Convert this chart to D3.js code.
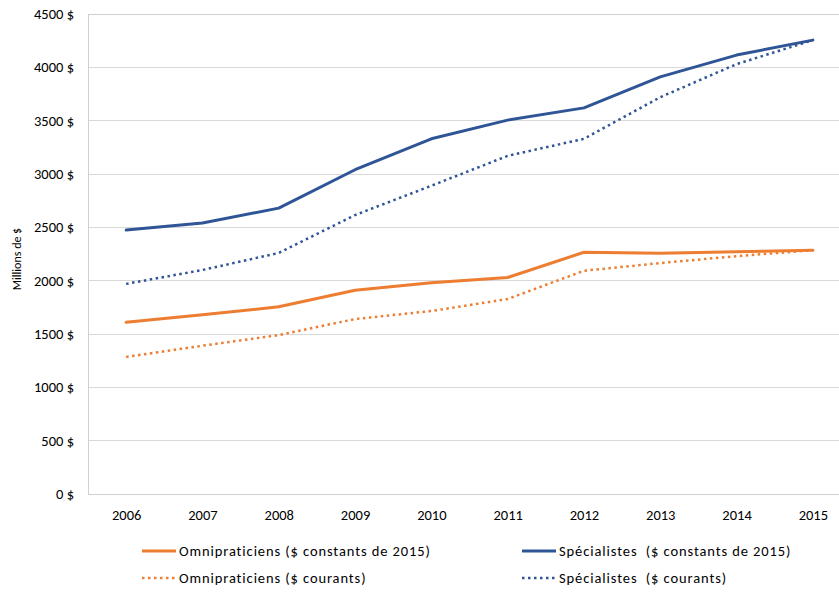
<!DOCTYPE html>
<html>
<head>
<meta charset="utf-8">
<script src="https://cdn.jsdelivr.net/npm/d3@7"></script>
<style>
  html, body { margin: 0; padding: 0; background: #fff; }
  svg { display: block; }
  text { font-family: Carlito, "Liberation Sans Narrow", "Open Sans", sans-serif; fill: #000; }
</style>
</head>
<body>
<svg id="chart" width="839" height="592"></svg>
<script>
// Years on the horizontal axis
const years = ["2006", "2007", "2008", "2009", "2010", "2011", "2012", "2013", "2014", "2015"];

// Payments in millions of dollars
const omniConstants = [1610, 1680, 1755, 1910, 1980, 2030, 2266, 2256, 2270, 2285];
const specConstants = [2475, 2540, 2680, 3040, 3330, 3505, 3620, 3910, 4115, 4255];
const omniCourants  = [1285, 1390, 1490, 1640, 1715, 1828, 2093, 2165, 2230, 2285];
const specCourants  = [1970, 2100, 2260, 2615, 2890, 3170, 3330, 3720, 4030, 4255];

const yTicks = [0, 500, 1000, 1500, 2000, 2500, 3000, 3500, 4000, 4500];

const seriesNames = [
  "Omnipraticiens ($ constants de 2015)",
  "Spécialistes  ($ constants de 2015)",
  "Omnipraticiens ($ courants)",
  "Spécialistes  ($ courants)"
];

const ORANGE = "#ED7D31";
const BLUE = "#2F5597";

const series = [
  { name: seriesNames[0], values: omniConstants, color: ORANGE, dotted: false },
  { name: seriesNames[1], values: specConstants, color: BLUE, dotted: false },
  { name: seriesNames[2], values: omniCourants, color: ORANGE, dotted: true },
  { name: seriesNames[3], values: specCourants, color: BLUE, dotted: true }
];

const svg = d3.select("#chart");
const plot = { left: 88, right: 851, top: 14, bottom: 494 };

const x = d3.scalePoint().domain(years).range([plot.left, plot.right]).padding(0.5);
const y = d3.scaleLinear().domain([0, 4500]).range([plot.bottom, plot.top]);

// Horizontal gridlines
svg.append("g")
  .selectAll("line")
  .data(yTicks)
  .join("line")
  .attr("x1", plot.left).attr("x2", plot.right)
  .attr("y1", d => y(d)).attr("y2", d => y(d))
  .attr("stroke", "#d9d9d9").attr("stroke-width", 1)
  .attr("shape-rendering", "crispEdges");

// Plot area frame
svg.append("rect")
  .attr("x", plot.left).attr("y", plot.top)
  .attr("width", plot.right - plot.left).attr("height", plot.bottom - plot.top)
  .attr("fill", "none").attr("stroke", "#d0d0d0").attr("stroke-width", 1)
  .attr("shape-rendering", "crispEdges");

// Y axis labels
const yAxis = d3.axisLeft(y).tickValues(yTicks).tickSize(0).tickPadding(14)
  .tickFormat(d => d + " $");
const gy = svg.append("g").attr("transform", `translate(${plot.left},0)`).call(yAxis);
gy.select(".domain").remove();
gy.selectAll("text").style("font-size", "14.5px").style("font-family", null);

// X axis labels
const xAxis = d3.axisBottom(x).tickSize(0).tickPadding(16);
const gx = svg.append("g").attr("transform", `translate(0,${plot.bottom})`).call(xAxis);
gx.select(".domain").remove();
gx.selectAll("text").style("font-size", "14.5px").style("font-family", null);

// Y axis title
svg.append("text")
  .attr("transform", "translate(21,259) rotate(-90)")
  .attr("text-anchor", "middle")
  .style("font-size", "12px")
  .text("Millions de $");

// Lines
const line = d3.line()
  .x((d, i) => x(years[i]))
  .y(d => y(d));

svg.append("g")
  .selectAll("path")
  .data(series.slice().reverse())
  .join("path")
  .attr("d", d => line(d.values))
  .attr("fill", "none")
  .attr("stroke", d => d.color)
  .attr("stroke-width", d => d.dotted ? 2.5 : 3)
  .attr("stroke-dasharray", d => d.dotted ? "2.5,3.5" : null)
  .attr("stroke-linejoin", "round")
  .attr("stroke-linecap", d => d.dotted ? "butt" : "round");

// Legend
const legendPos = [
  { x: 142, y: 551 }, { x: 522, y: 551 },
  { x: 142, y: 578 }, { x: 522, y: 578 }
];
const legend = svg.append("g")
  .selectAll("g")
  .data(series)
  .join("g")
  .attr("transform", (d, i) => `translate(${legendPos[i].x},${legendPos[i].y})`);

legend.append("line")
  .attr("x1", 0).attr("x2", 34).attr("y1", 0).attr("y2", 0)
  .attr("stroke", d => d.color)
  .attr("stroke-width", d => d.dotted ? 2.5 : 3)
  .attr("stroke-dasharray", d => d.dotted ? "2.5,3.5" : null);

legend.append("text")
  .attr("x", 37).attr("y", 0).attr("dy", "0.35em")
  .style("font-size", "14.5px")
  .style("letter-spacing", "0.9px")
  .style("white-space", "pre")
  .attr("xml:space", "preserve")
  .text(d => d.name);
</script>
</body>
</html>
